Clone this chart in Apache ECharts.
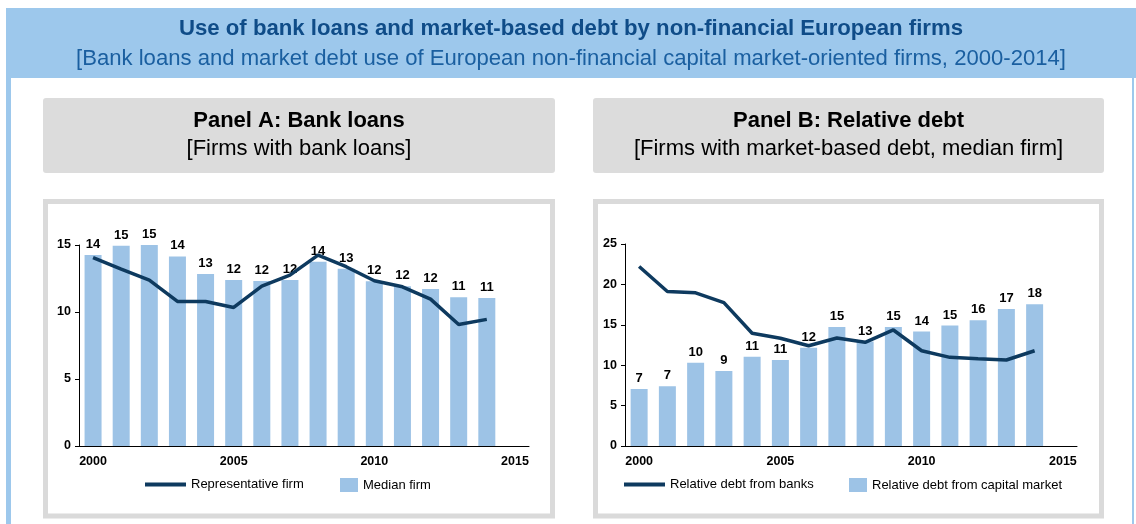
<!DOCTYPE html>
<html>
<head>
<meta charset="utf-8">
<script src="https://cdn.jsdelivr.net/npm/echarts@6/dist/echarts.min.js"></script>
<style>
  html, body { margin: 0; padding: 0; background: #ffffff; }
  #chart { width: 1136px; height: 524px; }
</style>
</head>
<body>
<div id="chart"></div>
<script>
// Years on the x axis (2015 is an empty slot so the axis ends at 2015)
const years = ['2000','2001','2002','2003','2004','2005','2006','2007','2008','2009','2010','2011','2012','2013','2014','2015'];

// Panel A: bank loans
const medianFirm = [14.25, 14.95, 15.05, 14.15, 12.83, 12.38, 12.31, 12.38, 13.75, 13.23, 12.3, 11.93, 11.71, 11.11, 11.04];
const representativeFirm = [14.05, 13.2, 12.38, 10.79, 10.79, 10.34, 11.93, 12.75, 14.25, 13.38, 12.33, 11.88, 10.96, 9.07, 9.45];

// Panel B: relative debt
const capitalMarketDebt = [7.04, 7.41, 10.31, 9.27, 11.05, 10.64, 12.17, 14.74, 12.92, 14.74, 14.16, 14.9, 15.55, 16.97, 17.55];
const bankDebt = [22.22, 19.12, 18.96, 17.75, 13.95, 13.33, 12.41, 13.37, 12.83, 14.36, 11.79, 10.97, 10.8, 10.64, 11.79];

// Axis ticks
const yTicksA = { min: 0, max: 15, interval: 5 };
const yTicksB = { min: 0, max: 25, interval: 5 };

const FONT = 'Liberation Sans, Arial, sans-serif';
const BAR_COLOR = '#9DC3E6';
const LINE_COLOR = '#0E3A5F';
const BAND_COLOR = '#9DC8EC';

const chart = echarts.init(document.getElementById('chart'), null, { renderer: 'canvas' });

function xAxisFor(gridIndex) {
  return {
    type: 'category',
    gridIndex: gridIndex,
    data: years,
    boundaryGap: true,
    axisLine: { show: true, lineStyle: { color: '#000', width: 1 } },
    axisTick: { show: false },
    axisLabel: { interval: 4, margin: 9, color: '#000', fontWeight: 'bold', fontSize: 12.5, fontFamily: FONT },
    splitLine: { show: false }
  };
}
function yAxisFor(gridIndex, t) {
  return {
    type: 'value',
    gridIndex: gridIndex,
    min: t.min, max: t.max, interval: t.interval,
    axisLine: { show: true, lineStyle: { color: '#000', width: 1 } },
    axisTick: { show: true, length: 4, lineStyle: { color: '#000' } },
    axisLabel: { margin: 8, color: '#000', fontWeight: 'bold', fontSize: 12.5, fontFamily: FONT },
    splitLine: { show: false }
  };
}
const barLabel = {
  show: true, position: 'top', distance: 4,
  color: '#000', fontWeight: 'bold', fontSize: 13, fontFamily: FONT,
  formatter: p => Math.round(p.value)
};
// line entries use a flat bar as their key, bar entries a small box
function legendFor(name, left, w, h) {
  return {
    data: [{ name: name, icon: 'rect' }], left: left, top: 473, orient: 'horizontal',
    itemWidth: w, itemHeight: h, itemGap: 0, itemTextGap: 6,
    selectedMode: false,
    textStyle: { color: '#000', fontSize: 13, fontFamily: FONT }
  };
}

function headerBox(x1, x2) {
  return { type: 'rect', shape: { x: x1, y: 98, width: x2 - x1, height: 75, r: 3 }, style: { fill: '#DCDCDC' }, silent: true };
}
function chartFrame(x1, x2) {
  return { type: 'rect', shape: { x: x1 + 2.5, y: 201.5, width: x2 - x1 - 5, height: 314.5 }, style: { fill: '#fff', stroke: '#DADADA', lineWidth: 5 }, silent: true };
}
function text(str, x, y, size, weight, color) {
  return {
    type: 'text', x: x, y: y, silent: true,
    style: { text: str, align: 'center', verticalAlign: 'middle', fill: color, font: weight + ' ' + size + 'px ' + FONT }
  };
}

const option = {
  animation: false,
  backgroundColor: '#ffffff',
  graphic: [
    // outer frame: title band plus thin side borders
    { type: 'rect', shape: { x: 6, y: 8, width: 1130, height: 70 }, style: { fill: BAND_COLOR }, silent: true, z: -10 },
    { type: 'rect', shape: { x: 6, y: 78, width: 5, height: 446 }, style: { fill: BAND_COLOR }, silent: true, z: -10 },
    { type: 'rect', shape: { x: 1132, y: 78, width: 2, height: 446 }, style: { fill: BAND_COLOR }, silent: true, z: -10 },
    text('Use of bank loans and market-based debt by non-financial European firms', 571, 29, 22.2, 'bold', '#0F4C88'),
    text('[Bank loans and market debt use of European non-financial capital market-oriented firms, 2000-2014]', 571, 59, 22.1, 'normal', '#1A5FA0'),
    // panel headers
    headerBox(43, 555),
    headerBox(593, 1104),
    text('Panel A: Bank loans', 299, 121, 22, 'bold', '#000'),
    text('[Firms with bank loans]', 299, 149, 22, 'normal', '#000'),
    text('Panel B: Relative debt', 848.5, 121, 22, 'bold', '#000'),
    text('[Firms with market-based debt, median firm]', 848.5, 149, 22, 'normal', '#000'),
    // chart frames
    Object.assign(chartFrame(43, 555), { z: -5 }),
    Object.assign(chartFrame(593, 1104), { z: -5 })
  ],
  grid: [
    { left: 79, top: 245, width: 450, height: 201, containLabel: false },
    { left: 625, top: 244, width: 452, height: 202, containLabel: false }
  ],
  xAxis: [xAxisFor(0), xAxisFor(1)],
  yAxis: [yAxisFor(0, yTicksA), yAxisFor(1, yTicksB)],
  legend: [
    legendFor('Representative firm', 140, 41, 4),
    legendFor('Median firm', 335, 18, 14),
    legendFor('Relative debt from banks', 619, 41, 4),
    legendFor('Relative debt from capital market', 844, 18, 14)
  ],
  series: [
    {
      name: 'Median firm', type: 'bar', xAxisIndex: 0, yAxisIndex: 0,
      data: medianFirm, barWidth: 17,
      itemStyle: { color: BAR_COLOR }, label: barLabel, z: 2
    },
    {
      name: 'Representative firm', type: 'line', xAxisIndex: 0, yAxisIndex: 0,
      data: representativeFirm, symbol: 'none',
      lineStyle: { color: LINE_COLOR, width: 3.5 }, itemStyle: { color: LINE_COLOR }, z: 3
    },
    {
      name: 'Relative debt from capital market', type: 'bar', xAxisIndex: 1, yAxisIndex: 1,
      data: capitalMarketDebt, barWidth: 17,
      itemStyle: { color: BAR_COLOR }, label: barLabel, z: 2
    },
    {
      name: 'Relative debt from banks', type: 'line', xAxisIndex: 1, yAxisIndex: 1,
      data: bankDebt, symbol: 'none',
      lineStyle: { color: LINE_COLOR, width: 3.5 }, itemStyle: { color: LINE_COLOR }, z: 3
    }
  ]
};

chart.setOption(option);
</script>
</body>
</html>
